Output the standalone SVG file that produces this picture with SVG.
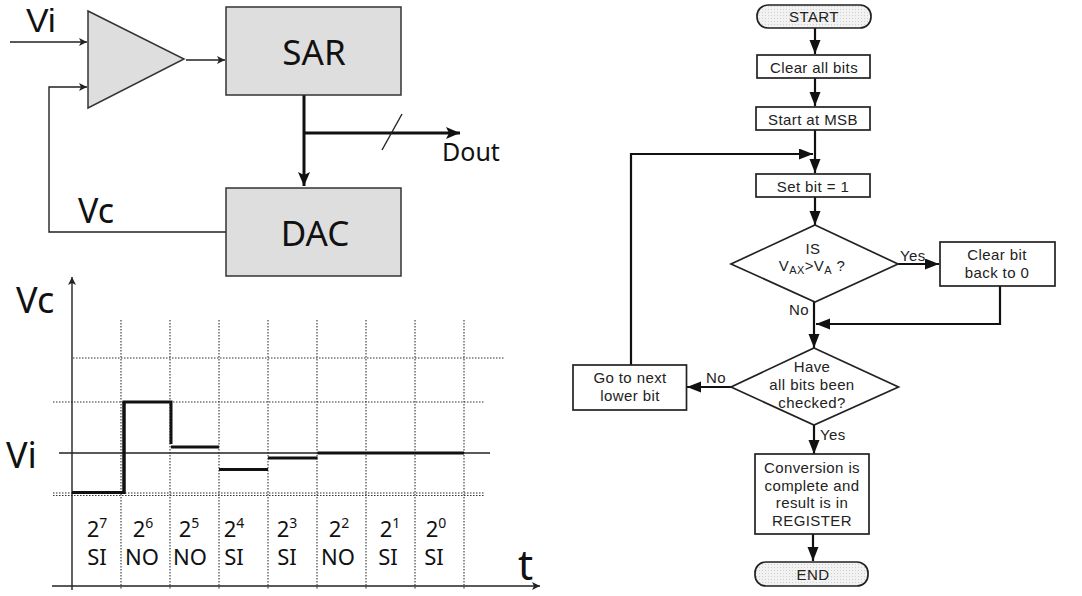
<svg xmlns="http://www.w3.org/2000/svg" width="1082" height="596" viewBox="0 0 1082 596">
<style>
.block{fill:#dedede;stroke:#333;stroke-width:1.5}
.ns{font-family:"Noto Sans","DejaVu Sans",sans-serif;fill:#111}
.big{font-size:35px;text-anchor:middle}
.tb{font-size:22px;text-anchor:middle}
.sup{font-size:14px}
.w1{fill:none;stroke:#222;stroke-width:1.4}
.w2{fill:none;stroke:#111;stroke-width:3}
.dot{fill:none;stroke:#333;stroke-width:1.1;stroke-dasharray:1.5 1.5}
.tr{fill:none;stroke:#111;stroke-width:3}
.fl{fill:none;stroke:#111;stroke-width:2.2}
.fbox{fill:#fff;stroke:#222;stroke-width:1.7}
.term{fill:url(#dots);stroke:#222;stroke-width:1.7}
.ft{font-family:"Liberation Sans",Arial,sans-serif;font-size:15px;fill:#222;letter-spacing:.4px}
.m{text-anchor:middle}
</style>
<defs>
<marker id="thin" markerUnits="userSpaceOnUse" markerWidth="10" markerHeight="10" refX="8" refY="4" orient="auto"><path d="M0,0L8,4L0,8L2,4Z" fill="#222"/></marker>
<marker id="thick" markerUnits="userSpaceOnUse" markerWidth="16" markerHeight="14" refX="14" refY="6" orient="auto"><path d="M0,0L14,6L0,12L3,6Z" fill="#111"/></marker>
<marker id="flow" markerUnits="userSpaceOnUse" markerWidth="16" markerHeight="14" refX="14" refY="5.500" orient="auto"><path d="M0,0L14,5.500L0,11Z" fill="#111"/></marker>
<pattern id="dots" width="3" height="3" patternUnits="userSpaceOnUse"><rect width="3" height="3" fill="#f2f2f2"/><rect width="1" height="1" fill="#cfcfcf"/></pattern>
</defs>

<g id="connectors">
<path class="w1" d="M10,42H87" marker-end="url(#thin)"/>
<path class="w1" d="M186,60H225" marker-end="url(#thin)"/>
<path class="w1" d="M226,232H49V87H87" marker-end="url(#thin)"/>
<path class="w2" d="M304,95V186" marker-end="url(#thick)"/>
<path class="w2" d="M304,133H460" marker-end="url(#thick)"/>
<path class="w1" d="M382,150L402,114"/>
<path class="fl" d="M815,28V54" marker-end="url(#flow)"/>
<path class="fl" d="M815,78V106" marker-end="url(#flow)"/>
<path class="fl" d="M815,130V173" marker-end="url(#flow)"/>
<path class="fl" d="M631,365V154H813" marker-end="url(#flow)"/>
<path class="fl" d="M815,197V225" marker-end="url(#flow)"/>
<path class="fl" d="M898,264H939" marker-end="url(#flow)"/>
<path class="fl" d="M814,302V348" marker-end="url(#flow)"/>
<path class="fl" d="M1000,286V324H816" marker-end="url(#flow)"/>
<path class="fl" d="M731,387H687" marker-end="url(#flow)"/>
<path class="fl" d="M814,425V454" marker-end="url(#flow)"/>
<path class="fl" d="M813,534V561" marker-end="url(#flow)"/>
</g>

<g id="comparator"><path class="block" d="M88,11L184,59L88,108Z"/></g>
<g id="sar"><rect class="block" x="226" y="7" width="175" height="88"/><text class="ns big" x="314" y="65">SAR</text></g>
<g id="dac"><rect class="block" x="226" y="188" width="175" height="88"/><text class="ns big" x="315" y="246">DAC</text></g>
<g id="labels">
<text x="26" y="32" font-size="34" font-family="'Liberation Sans',Arial,sans-serif" fill="#111">Vi</text>
<text class="ns" x="78" y="223" font-size="34">Vc</text>
<text class="ns" x="442" y="161" font-size="25">Dout</text>
</g>

<g id="chart">
<path class="dot" d="M121,320V590M170,320V590M219,320V590M268,320V590M317,320V590M366,320V590M415,320V590M464,320V590"/>
<path class="dot" d="M73,358H504M53,402H484M53,493H484M53,495.500H484"/>
<path class="w1" d="M59,453H490"/>
<path class="w1" d="M72,590V277" marker-end="url(#thin)"/>
<path class="w1" d="M52,586H540" marker-end="url(#thin)"/>
<path class="tr" d="M72,492.500H124V402H171V444M171,447H219M219,469.500H268M268,458H317.500M317.500,453H464"/>
<path class="tr" d="M124,402V494"/>
<text class="ns" x="16" y="313" font-size="36">Vc</text>
<text class="ns" x="6" y="468" font-size="36">Vi</text>
<text class="ns" x="518" y="580" font-size="42">t</text>
<g class="ns tb">
<text x="97" y="537">2<tspan class="sup" dy="-9">7</tspan></text>
<text x="143" y="537">2<tspan class="sup" dy="-9">6</tspan></text>
<text x="189" y="537">2<tspan class="sup" dy="-9">5</tspan></text>
<text x="234" y="537">2<tspan class="sup" dy="-9">4</tspan></text>
<text x="287" y="537">2<tspan class="sup" dy="-9">3</tspan></text>
<text x="339" y="537">2<tspan class="sup" dy="-9">2</tspan></text>
<text x="390" y="537">2<tspan class="sup" dy="-9">1</tspan></text>
<text x="436" y="537">2<tspan class="sup" dy="-9">0</tspan></text>
<text x="97" y="565">SI</text>
<text x="142" y="565">NO</text>
<text x="190" y="565">NO</text>
<text x="234" y="565">SI</text>
<text x="287" y="565">SI</text>
<text x="338" y="565">NO</text>
<text x="388" y="565">SI</text>
<text x="434" y="565">SI</text>
</g>
</g>

<g id="start"><rect class="term" x="757" y="5" width="114" height="23" rx="11"/><text class="ft m" x="814" y="22">START</text></g>
<g id="clear-all"><rect class="fbox" x="757" y="55" width="113" height="23"/><text class="ft m" x="814" y="73">Clear all bits</text></g>
<g id="start-msb"><rect class="fbox" x="756" y="107" width="114" height="23"/><text class="ft m" x="813" y="125">Start at MSB</text></g>
<g id="set-bit"><rect class="fbox" x="756" y="174" width="114" height="23"/><text class="ft m" x="813" y="192">Set bit = 1</text></g>
<g id="decision-1"><path class="fbox" d="M815,225L898,264L815,302L731,264Z"/>
<text class="ft m" x="813" y="254">IS</text>
<text class="ft m" x="812" y="271">V<tspan font-size="11" dy="3">AX</tspan><tspan dy="-3">&gt;V</tspan><tspan font-size="11" dy="3">A</tspan><tspan dy="-3"> ?</tspan></text></g>
<g id="clear-bit"><rect class="fbox" x="940" y="242" width="115" height="44"/><text class="ft m" x="997" y="260">Clear bit</text><text class="ft m" x="997" y="278">back to 0</text></g>
<g id="decision-2"><path class="fbox" d="M814,348L898.500,387L814,425L731,387Z"/>
<text class="ft m" x="812" y="372">Have</text><text class="ft m" x="812" y="390">all bits been</text><text class="ft m" x="812" y="408">checked?</text></g>
<g id="next-bit"><rect class="fbox" x="573" y="365" width="113.500" height="45"/><text class="ft m" x="630" y="383">Go to next</text><text class="ft m" x="630" y="401">lower bit</text></g>
<g id="conversion"><rect class="fbox" x="755" y="454" width="114" height="80"/>
<text class="ft m" x="812" y="473">Conversion is</text><text class="ft m" x="812" y="491">complete and</text><text class="ft m" x="812" y="508">result is in</text><text class="ft m" x="812" y="526">REGISTER</text></g>
<g id="end"><rect class="term" x="755" y="562" width="113" height="24" rx="11"/><text class="ft m" x="813" y="580">END</text></g>
<g id="flow-labels">
<text class="ft" x="900" y="261">Yes</text>
<text class="ft" x="789" y="315">No</text>
<text class="ft" x="706" y="383">No</text>
<text class="ft" x="820" y="440">Yes</text>
</g>
</svg>
